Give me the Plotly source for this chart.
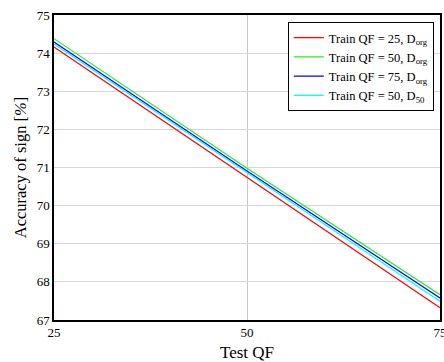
import plotly.graph_objects as go

test_qf = [25, 50, 75]
acc_qf25_org = [74.16, 70.75, 67.32]
acc_qf50_org = [74.38, 70.98, 67.66]
acc_qf75_org = [74.29, 70.91, 67.58]
acc_qf50_d50 = [74.24, 70.86, 67.49]

series = [
    ("Train QF = 25, D<sub>org</sub>", acc_qf25_org, "#ff0000"),
    ("Train QF = 50, D<sub>org</sub>", acc_qf50_org, "#22ee22"),
    ("Train QF = 75, D<sub>org</sub>", acc_qf75_org, "#0000ff"),
    ("Train QF = 50, D<sub>50</sub>", acc_qf50_d50, "#00ffff"),
]

fig = go.Figure()
for name, vals, col in series:
    fig.add_trace(go.Scatter(x=test_qf, y=vals, mode="lines", name=name,
                             line=dict(color=col, width=1.2)))

font = "Liberation Serif"
fig.update_layout(
    width=444, height=362,
    margin=dict(l=54, r=4, t=15, b=42, autoexpand=False),
    paper_bgcolor="white", plot_bgcolor="white",
    font=dict(family=font, size=13, color="black"),
    legend=dict(x=0.984, y=0.977, xanchor="right", yanchor="top",
                bordercolor="black", borderwidth=1, bgcolor="white",
                font=dict(family=font, size=12.5), tracegroupgap=0,
                itemwidth=30),
    showlegend=True,
)
fig.update_xaxes(range=[25, 75], tickvals=[25, 50, 75], showgrid=True,
                 gridcolor="#c8c8c8", gridwidth=1, showline=True, linecolor="black",
                 linewidth=1.5, mirror=True, ticks="", zeroline=False,
                 ticklabeloverflow="allow", automargin=False,
                 title=dict(text="Test QF", font=dict(size=17), standoff=8))
fig.update_yaxes(range=[67, 75], dtick=1, showgrid=True,
                 gridcolor="#d6d6d6", gridwidth=1, showline=True, linecolor="black",
                 linewidth=1.5, mirror=True, ticks="", zeroline=False, automargin=False,
                 title=dict(text="Accuracy of sign [<i>%</i>]", font=dict(size=16.5), standoff=6))

fig.write_html("out.html", config={"displayModeBar": False},
               post_script="document.body.style.margin='0';")
